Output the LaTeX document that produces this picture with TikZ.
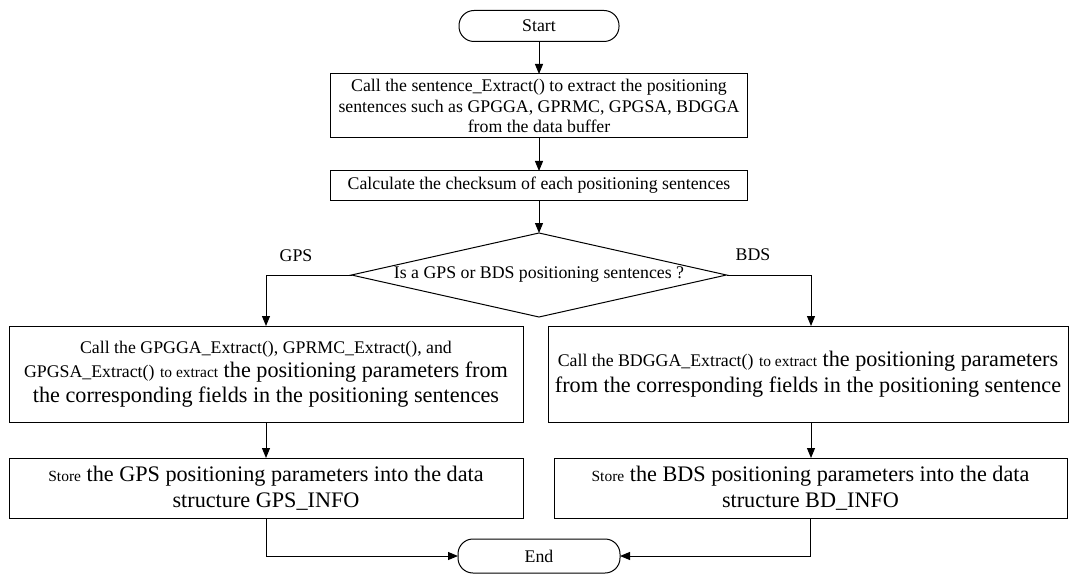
\documentclass[tikz,border=0pt]{standalone}
\usepackage{fontspec}
\setmainfont{Liberation Serif}
\usetikzlibrary{arrows.meta,shapes.geometric}
\newcommand\mynorm{\fontsize{17.8pt}{20.5pt}\selectfont}
\newcommand\mysmall{\fontsize{15.5pt}{20pt}\selectfont}
\newcommand\mybig[1][25pt]{\fontsize{22.2pt}{#1}\selectfont}
\begin{document}
\begin{tikzpicture}[x=1pt,y=-1pt,line width=1pt,
  every node/.style={inner sep=0pt,outer sep=0pt},
  box/.style={draw,rectangle,align=center},
  term/.style={draw,rectangle,rounded corners=15pt,font=\mynorm},
  decision/.style={draw,diamond,aspect=4.46,font=\mynorm},
  arr/.style={-{Triangle[width=8pt,length=10pt]}},
  lbl/.style={font=\mynorm}]
\useasboundingbox (0,0) rectangle (1074,575);
\node[term,minimum width=160pt,minimum height=31pt] (start) at (539,26) {Start};
\node[box,font=\mynorm,minimum width=417pt,minimum height=64pt] (b1) at (539,106)
  {Call the sentence\_Extract() to extract the positioning\\sentences such as GPGGA, GPRMC, GPGSA, BDGGA\\from the data buffer};
\node[box,font=\mynorm,minimum width=417pt,minimum height=29pt] (b2) at (539,185.5)
  {Calculate the checksum of each positioning sentences};
\node[decision,minimum width=375pt,minimum height=84pt] (dec) at (539,275)
  {Is a GPS or BDS positioning sentences ?};
\node[lbl] (gps) at (296,256) {GPS};
\node[lbl] (bds) at (753,255) {BDS};
\node[box,font={\mybig[24.5pt]},minimum width=514pt,minimum height=96pt] (lb) at (266,374)
  {{\mynorm Call the GPGGA\_Extract(), GPRMC\_Extract(), and}\\{\mynorm GPGSA\_Extract()} {\mysmall to extract} the positioning parameters from\\the corresponding fields in the positioning sentences};
\node[box,font={\mybig[26.5pt]},minimum width=520pt,minimum height=96pt] (rb) at (808,374)
  {{\mynorm Call the BDGGA\_Extract()} {\mysmall to extract} the positioning parameters\\from the corresponding fields in the positioning sentence};
\node[box,font={\mybig[26pt]},minimum width=514pt,minimum height=60pt] (lb2) at (266,488)
  {{\mysmall Store} the GPS positioning parameters into the data\\structure GPS\_INFO};
\node[box,font={\mybig[26pt]},minimum width=513pt,minimum height=60pt] (rb2) at (810.5,488)
  {{\mysmall Store} the BDS positioning parameters into the data\\structure BD\_INFO};
\node[term,minimum width=162pt,minimum height=34pt] (end) at (539,556) {End};
\draw[arr] (start) -- (b1);
\draw[arr] (b1) -- (b2);
\draw[arr] (b2) -- (dec);
\draw[arr] (dec.west) -| (lb.north);
\draw[arr] (dec.east) -| ([xshift=3pt]rb.north);
\draw[arr] (lb) -- (lb2);
\draw[arr] ([xshift=3pt]rb.south) -- ([xshift=0.5pt]rb2.north);
\draw[arr] (lb2.south) |- (end.west);
\draw[arr] (rb2.south) |- (end.east);
\end{tikzpicture}
\end{document}
